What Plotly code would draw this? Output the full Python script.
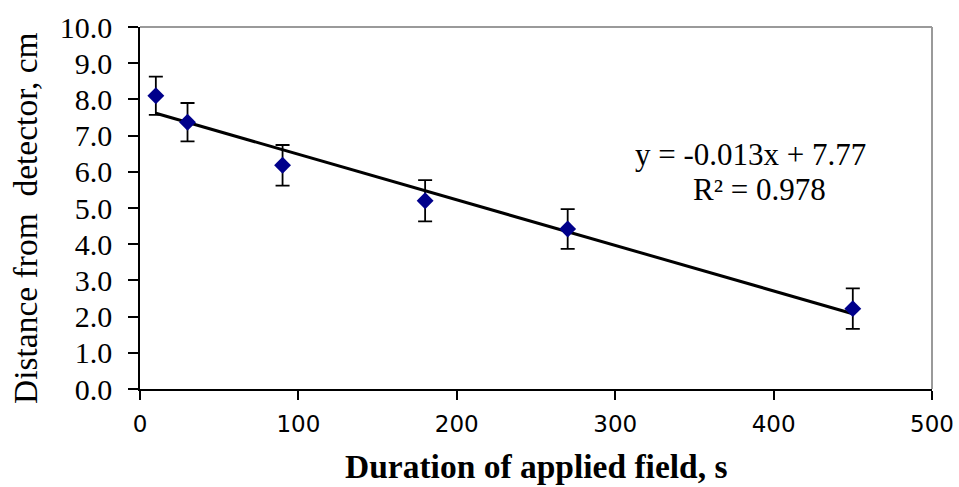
import numpy as np
import plotly.graph_objects as go

# Data
duration_s = [10, 30, 90, 180, 270, 450]
distance_cm = [8.10, 7.37, 6.18, 5.20, 4.42, 2.22]
error_cm = [0.53, 0.53, 0.56, 0.57, 0.55, 0.56]

y_ticks = [0, 1, 2, 3, 4, 5, 6, 7, 8, 9, 10]
x_ticks = [0, 100, 200, 300, 400, 500]

eq_text = "y = -0.013x + 7.77"
r2_text = "R² = 0.978"
x_title = "<b>Duration of applied field, s</b>"
y_title = "Distance from  detector, cm"

# Linear trendline from the data
slope, intercept = np.polyfit(duration_s, distance_cm, 1)
trend_x = [min(duration_s), max(duration_s)]
trend_y = [slope * v + intercept for v in trend_x]

serif = "Liberation Serif"
L, R, T, B = 140, 932, 27, 389


def px_x(p):
    return (p - L) / (R - L)


def px_y(p):
    return (B - p) / (B - T)


fig = go.Figure()
fig.add_trace(go.Scatter(
    x=trend_x, y=trend_y, mode="lines",
    line=dict(color="black", width=3), showlegend=False, hoverinfo="skip"))
fig.add_trace(go.Scatter(
    x=duration_s, y=distance_cm, mode="markers",
    marker=dict(symbol="diamond", size=13, color="#00008B"),
    error_y=dict(type="data", array=error_cm, visible=True,
                 color="black", thickness=1.8, width=7),
    showlegend=False))

fig.add_annotation(xref="paper", yref="paper", x=px_x(750), y=px_y(154),
                   xanchor="center", yanchor="middle", text=eq_text, showarrow=False,
                   font=dict(family=serif, size=31, color="black"))
fig.add_annotation(xref="paper", yref="paper", x=px_x(759), y=px_y(189),
                   xanchor="center", yanchor="middle", text=r2_text, showarrow=False,
                   font=dict(family=serif, size=31, color="black"))

# axis titles placed as text
fig.add_annotation(xref="paper", yref="paper", x=px_x(25), y=px_y(218),
                   xanchor="center", yanchor="middle", text=y_title, textangle=-90,
                   showarrow=False, font=dict(family=serif, size=33.5, color="black"))
fig.add_annotation(xref="paper", yref="paper", x=px_x(536), y=px_y(466),
                   xanchor="center", yanchor="middle", text=x_title,
                   showarrow=False, font=dict(family=serif, size=33.5, color="black"))

# gray top and right border of plot area
fig.add_shape(type="line", xref="paper", yref="paper", x0=0, x1=1, y0=1, y1=1,
              line=dict(color="#9a9a9a", width=2))
fig.add_shape(type="line", xref="paper", yref="paper", x0=1, x1=1, y0=0, y1=1,
              line=dict(color="#9a9a9a", width=2))

fig.update_layout(
    width=959, height=487,
    margin=dict(l=L, r=959 - R, t=T, b=487 - B, autoexpand=False),
    plot_bgcolor="white", paper_bgcolor="white",
    xaxis=dict(range=[0, 500], tickvals=x_ticks, ticks="outside", ticklen=9,
               tickwidth=1.5, tickcolor="black", showline=True, linecolor="black",
               linewidth=1.5, showgrid=False, zeroline=False, automargin=False,
               ticklabelstandoff=5,
               tickfont=dict(family="DejaVu Sans", size=23, color="black")),
    yaxis=dict(range=[0, 10], tickvals=y_ticks, tickformat=".1f", ticks="outside",
               ticklen=10, tickwidth=1.5, tickcolor="black", showline=True,
               linecolor="black", linewidth=1.5, showgrid=False, zeroline=False,
               automargin=False, ticklabelstandoff=10,
               tickfont=dict(family=serif, size=30, color="black")),
)

fig.write_html("out.html")
